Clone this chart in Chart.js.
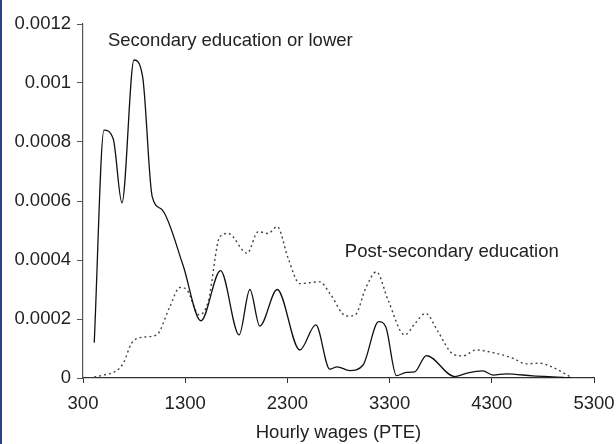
<!DOCTYPE html>
<html>
<head>
<meta charset="utf-8">
<script src="https://cdn.jsdelivr.net/npm/chart.js@4.4.1/dist/chart.umd.min.js"></script>
<style>
  html, body { margin: 0; padding: 0; background: #fff; }
  #wrap { position: relative; width: 616px; height: 444px; }
  #wrap:before { content: ''; position: absolute; left: 0; top: 0; width: 2px; height: 444px; background: #2e3f8c; }
</style>
</head>
<body>
<div id="wrap"><canvas id="wageChart" width="616" height="444"></canvas></div>
<script>
// Wage density curves
const lowWages = [410, 505, 596, 681, 799, 884, 977, 1075, 1278, 1454, 1646, 1828, 1933, 2030, 2200, 2421, 2578, 2715, 2786, 2910, 3040, 3193, 3262, 3367, 3464, 3545, 3660, 3936, 4051, 4213, 4311, 4442, 4702, 4995, 5077];
const lowDensity = [0.00012, 0.00084, 0.00081, 0.000594, 0.001078, 0.00102, 0.000615, 0.00057, 0.000383, 0.000194, 0.000364, 0.000146, 0.0003, 0.000176, 0.0003, 0.000095, 0.00018, 0.00003, 0.000038, 0.000025, 0.000044, 0.000191, 0.000174, 0.000008, 0.000019, 0.000021, 0.000076, 0.000005, 0.000016, 0.000024, 0.00001, 0.000014, 0.000007, 0.000002, 0];

const highWages = [362, 500, 629, 694, 776, 874, 1020, 1150, 1248, 1314, 1437, 1525, 1639, 1720, 1906, 2014, 2112, 2200, 2307, 2421, 2617, 2715, 2878, 2959, 3073, 3171, 3285, 3448, 3545, 3653, 3774, 3920, 4018, 4149, 4311, 4506, 4637, 4768, 4898, 5087];
const highDensity = [0, 0.00001, 0.000025, 0.00005, 0.000118, 0.000138, 0.000146, 0.000242, 0.000307, 0.0003, 0.000214, 0.000259, 0.000479, 0.00049, 0.000423, 0.000496, 0.00049, 0.000513, 0.000406, 0.00032, 0.000326, 0.000287, 0.00021, 0.000213, 0.00031, 0.00036, 0.000264, 0.000146, 0.000183, 0.000219, 0.000157, 0.000081, 0.000075, 0.000095, 0.000086, 0.000067, 0.000048, 0.00005, 0.000036, 0];

const xTicks = [300, 1300, 2300, 3300, 4300, 5300];
const xTickLabels = ['300', '1300', '2300', '3300', '4300', '5300'];
const yTicks = [0, 0.0002, 0.0004, 0.0006, 0.0008, 0.001, 0.0012];
const yTickLabels = ['0', '0.0002', '0.0004', '0.0006', '0.0008', '0.001', '0.0012'];

// Curve labels, anchored in data units
const curveLabels = [
  { text: 'Secondary education or lower', x: 544, y: 0.001125 },
  { text: 'Post-secondary education', x: 2862, y: 0.00041 }
];

const font = { family: 'Liberation Sans, Arial, sans-serif', size: 18.5 };

const toPoints = (xs, ys) => xs.map((x, i) => ({ x: x, y: ys[i] }));

const labelPlugin = {
  id: 'curveLabels',
  afterDatasetsDraw(chart) {
    const ctx = chart.ctx;
    const xs = chart.scales.x, ys = chart.scales.y;
    ctx.save();
    ctx.font = font.size + 'px ' + font.family;
    ctx.fillStyle = '#222';
    ctx.textAlign = 'left';
    ctx.textBaseline = 'alphabetic';
    curveLabels.forEach(l => {
      ctx.fillText(l.text, xs.getPixelForValue(l.x), ys.getPixelForValue(l.y));
    });
    ctx.restore();
  }
};

new Chart(document.getElementById('wageChart'), {
  type: 'line',
  data: {
    datasets: [
      {
        label: 'Secondary education or lower',
        data: toPoints(lowWages, lowDensity),
        borderColor: '#111',
        borderWidth: 1.3,
        pointRadius: 0,
        cubicInterpolationMode: 'monotone'
      },
      {
        label: 'Post-secondary education',
        data: toPoints(highWages, highDensity),
        borderColor: '#444',
        borderWidth: 1.4,
        borderDash: [2, 3],
        pointRadius: 0,
        cubicInterpolationMode: 'monotone'
      }
    ]
  },
  options: {
    responsive: false,
    animation: false,
    layout: { padding: { left: 0, right: 0, top: 24, bottom: 0 } },
    plugins: {
      legend: { display: false },
      tooltip: { enabled: false }
    },
    scales: {
      x: {
        type: 'linear',
        min: 300,
        max: 5300,
        afterBuildTicks: scale => { scale.ticks = xTicks.map(v => ({ value: v })); },
        afterFit: scale => {
          scale.height = 66;
          scale.paddingLeft = 0;
          scale.paddingRight = 22;
        },
        grid: { drawOnChartArea: false, drawTicks: true, tickLength: 5, color: '#333' },
        border: { display: true, color: '#333', width: 1.2 },
        ticks: {
          color: '#222',
          font: font,
          padding: 10,
          maxRotation: 0,
          callback: (value, index) => xTickLabels[index]
        },
        title: {
          display: true,
          text: 'Hourly wages (PTE)',
          color: '#222',
          font: font,
          padding: { top: 4, bottom: 0 }
        }
      },
      y: {
        min: 0,
        max: 0.0012,
        afterBuildTicks: scale => { scale.ticks = yTicks.map(v => ({ value: v })); },
        afterFit: scale => { scale.width = 83; },
        grid: { drawOnChartArea: false, drawTicks: true, tickLength: 6, color: '#555' },
        border: { display: true, color: '#555', width: 1.2 },
        ticks: {
          color: '#222',
          font: font,
          padding: 6,
          callback: (value, index) => yTickLabels[index]
        }
      }
    }
  },
  plugins: [labelPlugin]
});
</script>
</body>
</html>
